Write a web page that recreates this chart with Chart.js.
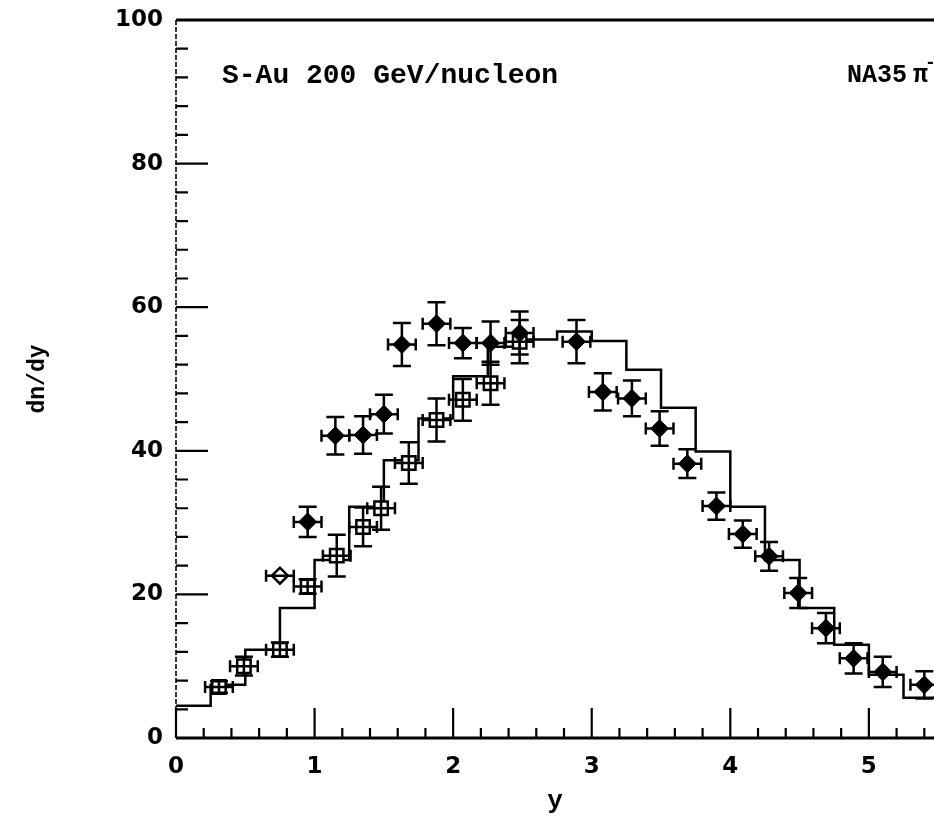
<!DOCTYPE html>
<html>
<head>
<meta charset="utf-8">
<title>NA35 pi- dn/dy, S-Au 200 GeV/nucleon</title>
<script src="https://cdn.jsdelivr.net/npm/chart.js@4.4.1/dist/chart.umd.min.js"></script>
<style>
  html, body { margin: 0; padding: 0; background: #fff; overflow: hidden; }
  /* the scanned plot is cut off on the right, so the canvas runs past the window */
  #wrap { width: 934px; height: 817px; overflow: hidden; }
</style>
</head>
<body>
<div id="wrap"><canvas id="chart" width="946" height="817"></canvas></div>
<script>
// values

// model histogram: bin edges (width 0.25) and heights
const histEdges = [0, 0.25, 0.5, 0.75, 1.0, 1.25, 1.5, 1.75, 2.0, 2.25, 2.5, 2.75,
                   3.0, 3.25, 3.5, 3.75, 4.0, 4.25, 4.5, 4.75, 5.0, 5.25, 5.5];
const histValues = [4.5, 7.4, 12.3, 18.1, 24.8, 32.2, 38.7, 44.5, 50.4, 54.5, 55.5,
                    56.6, 55.3, 51.3, 46.0, 39.9, 32.2, 24.8, 18.1, 13.0, 8.8, 5.6];

// filled diamonds
const diamondX = [0.95, 1.15, 1.35, 1.50, 1.63, 1.88, 2.07, 2.27, 2.48, 2.89, 3.08,
                  3.29, 3.49, 3.69, 3.90, 4.09, 4.28, 4.49, 4.69, 4.89, 5.10, 5.40];
const diamondY = [30.1, 42.1, 42.2, 45.1, 54.8, 57.7, 55.0, 55.0, 56.4, 55.2, 48.2,
                  47.3, 43.1, 38.2, 32.3, 28.4, 25.3, 20.2, 15.3, 11.1, 9.2, 7.4];
const diamondErr = [2.1, 2.6, 2.6, 2.7, 3.0, 3.0, 2.1, 3.0, 3.0, 3.0, 2.6,
                    2.5, 2.4, 2.0, 1.9, 1.9, 2.0, 2.1, 2.1, 2.1, 2.1, 1.9];

// open squares
const squareX = [0.31, 0.49, 0.75, 0.95, 1.16, 1.35, 1.48, 1.68, 1.88, 2.07, 2.27, 2.48];
const squareY = [7.1, 10.0, 12.3, 21.1, 25.4, 29.4, 32.0, 38.3, 44.3, 47.1, 49.4, 55.2];
const squareErr = [0.8, 1.3, 1.0, 1.0, 2.9, 2.7, 3.0, 2.9, 3.0, 2.9, 3.0, 3.0];

// single open diamond
const openX = [0.75];
const openY = [22.6];
const openErr = [0];

const binHalf = 0.1;   // horizontal error bar half width (y units)

const xTicks = [0, 1, 2, 3, 4, 5];
const yTicks = [0, 20, 40, 60, 80, 100];

const histData = histValues.map((v, i) => ({ x: histEdges[i], y: v }));
histData.push({ x: histEdges[histEdges.length - 1], y: histValues[histValues.length - 1] });

const toPts = (xs, ys) => xs.map((x, i) => ({ x: x, y: ys[i] }));

// chart.js pads the plot for edge tick labels; the figure has none
function noPad(s) {
  s.paddingLeft = 0; s.paddingRight = 0; s.paddingTop = 0; s.paddingBottom = 0;
}

function errorBars(ctx, xs, ys, errs, xs_, ys_) {
  ctx.lineWidth = 2.5;
  for (let i = 0; i < xs.length; i++) {
    const px = xs_.getPixelForValue(xs[i]);
    const py = ys_.getPixelForValue(ys[i]);
    ctx.beginPath();
    if (errs[i] > 0) {
      const top = ys_.getPixelForValue(ys[i] + errs[i]);
      const bot = ys_.getPixelForValue(ys[i] - errs[i]);
      ctx.moveTo(px, top); ctx.lineTo(px, bot);
      ctx.moveTo(px - 9, top); ctx.lineTo(px + 9, top);
      ctx.moveTo(px - 9, bot); ctx.lineTo(px + 9, bot);
    }
    const l = xs_.getPixelForValue(xs[i] - binHalf);
    const r = xs_.getPixelForValue(xs[i] + binHalf);
    ctx.moveTo(l, py); ctx.lineTo(r, py);
    ctx.moveTo(l, py - 6); ctx.lineTo(l, py + 6);
    ctx.moveTo(r, py - 6); ctx.lineTo(r, py + 6);
    ctx.stroke();
  }
}

const paperPlugin = {
  id: 'paper',
  afterDatasetsDraw(chart) {
    const { ctx, scales: { x, y } } = chart;
    ctx.save();
    ctx.strokeStyle = '#000';
    errorBars(ctx, diamondX, diamondY, diamondErr, x, y);
    errorBars(ctx, squareX, squareY, squareErr, x, y);
    errorBars(ctx, openX, openY, openErr, x, y);
    ctx.restore();
  },
  afterDraw(chart) {
    const { ctx, chartArea: a, scales: { x, y } } = chart;
    ctx.save();
    ctx.strokeStyle = '#000';
    ctx.fillStyle = '#000';

    // frame
    ctx.lineWidth = 3;
    ctx.beginPath();
    ctx.moveTo(a.left, a.top); ctx.lineTo(a.right, a.top);
    ctx.moveTo(a.left, a.bottom); ctx.lineTo(a.right, a.bottom);
    ctx.stroke();
    ctx.lineWidth = 1.6;
    ctx.setLineDash([5, 2]);
    ctx.beginPath();
    ctx.moveTo(a.left, a.top); ctx.lineTo(a.left, a.bottom);
    ctx.stroke();
    ctx.setLineDash([]);

    // inward ticks
    ctx.lineWidth = 2.2;
    ctx.beginPath();
    for (let v = 0; v <= 5.45; v += 0.2) {
      const px = x.getPixelForValue(v);
      const major = Math.abs(v - Math.round(v)) < 1e-6;
      ctx.moveTo(px, a.bottom); ctx.lineTo(px, a.bottom - (major ? 30 : 10));
    }
    for (let v = 0; v <= 100; v += 4) {
      const py = y.getPixelForValue(v);
      const major = v % 20 === 0;
      ctx.moveTo(a.left, py); ctx.lineTo(a.left + (major ? 32 : 12), py);
    }
    ctx.stroke();

    // annotations
    ctx.textBaseline = 'middle';
    ctx.textAlign = 'left';
    ctx.font = 'bold 28px "Liberation Mono"';
    ctx.fillText('S-Au 200 GeV/nucleon', 222, 76);
    ctx.font = 'bold 25px "Liberation Mono"';
    ctx.fillText('NA35', 847, 76);
    ctx.fillText('\u03c0', 913, 76);
    ctx.font = 'bold 18px "Liberation Mono"';
    ctx.fillText('-', 925, 63);
    ctx.restore();
  }
};

const ctx = document.getElementById('chart').getContext('2d');
new Chart(ctx, {
  type: 'scatter',
  data: {
    datasets: [
      {
        label: 'filled diamonds',
        data: toPts(diamondX, diamondY),
        pointStyle: 'rectRot',
        pointRadius: 9,
        backgroundColor: '#000',
        borderColor: '#000',
        borderWidth: 1,
        order: 1
      },
      {
        label: 'open squares',
        data: toPts(squareX, squareY),
        pointStyle: 'rect',
        pointRadius: 9.5,
        backgroundColor: '#fff',
        borderColor: '#000',
        borderWidth: 2.5,
        order: 1
      },
      {
        label: 'open diamond',
        data: toPts(openX, openY),
        pointStyle: 'rectRot',
        pointRadius: 8,
        backgroundColor: '#fff',
        borderColor: '#000',
        borderWidth: 2.5,
        order: 1
      },
      {
        label: 'model',
        data: histData,
        showLine: true,
        stepped: 'before',
        borderColor: '#000',
        borderWidth: 2.5,
        pointRadius: 0,
        fill: false,
        order: 3
      }
    ]
  },
  options: {
    responsive: false,
    animation: false,
    events: [],
    layout: { padding: { top: 20, right: 0, bottom: 0, left: 0 } },
    plugins: { legend: { display: false }, tooltip: { enabled: false } },
    scales: {
      x: {
        type: 'linear',
        min: 0,
        max: 5.47,
        afterFit: s => { s.height = 79; noPad(s); },
        afterBuildTicks: s => { s.ticks = xTicks.map(v => ({ value: v })); },
        grid: { display: false, drawTicks: false },
        border: { display: false },
        ticks: {
          color: '#000',
          padding: 15,
          maxRotation: 0,
          font: { family: 'DejaVu Sans', weight: 'bold', size: 23 }
        },
        title: {
          display: true,
          text: 'y',
          color: '#000',
          padding: { top: 0, bottom: 0 },
          font: { family: 'Liberation Mono', weight: 'bold', size: 26 }
        }
      },
      y: {
        type: 'linear',
        min: 0,
        max: 100,
        afterFit: s => { s.width = 176; noPad(s); },
        afterBuildTicks: s => { s.ticks = yTicks.map(v => ({ value: v })); },
        grid: { display: false, drawTicks: false },
        border: { display: false },
        ticks: {
          color: '#000',
          padding: 13,
          font: { family: 'DejaVu Sans', weight: 'bold', size: 23 }
        },
        title: {
          display: true,
          text: 'dn/dy',
          color: '#000',
          padding: { top: 24, bottom: 0 },
          font: { family: 'Liberation Mono', weight: 'bold', size: 23 }
        }
      }
    }
  },
  plugins: [paperPlugin]
});
</script>
</body>
</html>
